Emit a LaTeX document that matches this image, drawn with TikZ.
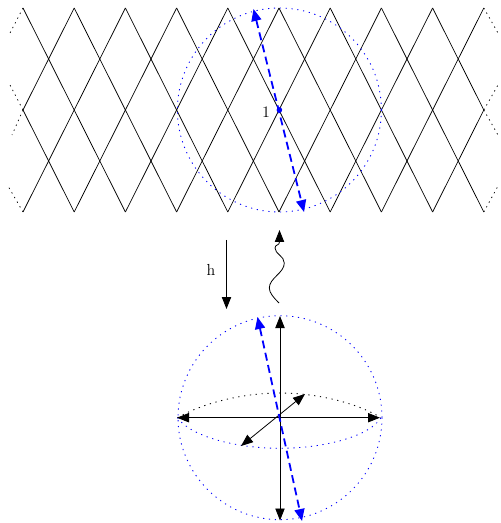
\documentclass[tikz,border=0pt]{standalone}
\usetikzlibrary{arrows.meta}
\definecolor{sphereblue}{RGB}{0,0,255}
\tikzset{
  x=0.75pt,y=-0.75pt,
  gridline/.style={draw=black,line width=0.55pt},
  griddots/.style={draw=black,line width=0.55pt,dash pattern=on 1pt off 3pt},
  bluedots/.style={draw=sphereblue,line width=0.65pt,dash pattern=on 0.9pt off 3.5pt},
  blackdots/.style={draw=black,line width=0.65pt,dash pattern=on 0.9pt off 3.5pt},
  axisarrow/.style={draw=black,line width=0.6pt,{Triangle[length=9pt,width=7pt]}-{Triangle[length=9pt,width=7pt]}},
  singlearrow/.style={draw=black,line width=0.6pt,-{Triangle[length=9pt,width=7pt]}},
  bluearrow/.style={draw=sphereblue,line width=1.35pt,dash pattern=on 6pt off 3.4pt,{Triangle[length=9pt,width=7.5pt]}-{Triangle[length=9pt,width=7.5pt]}},
  label text/.style={inner sep=0pt,font=\fontsize{12}{14}\selectfont,text=black}
}
\begin{document}
\begin{tikzpicture}
\useasboundingbox (0,0) rectangle (500,523);
% lattice points
\foreach \i in {0,...,9}{
  \coordinate (t\i) at ({23+51.2*\i},8);
  \coordinate (m\i) at ({23+51.2*\i},110);
  \coordinate (b\i) at ({23+51.2*\i},212);
}
% descending and ascending diagonals
\foreach \i [evaluate=\i as \j using int(\i+2)] in {0,...,7}{
  \draw[gridline] (t\i) -- (b\j);
  \draw[gridline] (b\i) -- (t\j);
}
\draw[gridline] (m0) -- (t1);
\draw[gridline] (m0) -- (b1);
\draw[gridline] (t8) -- (m9);
\draw[gridline] (b8) -- (m9);
% dotted continuations
\coordinate (lta) at (10,33);
\coordinate (lma) at (10,85);
\coordinate (lmb) at (12,135);
\coordinate (lba) at (8,186);
\coordinate (rta) at (498,33);
\coordinate (rma) at (498,85);
\coordinate (rmb) at (498,135);
\coordinate (rba) at (498,186);
\draw[griddots] (t0) -- (lta);
\draw[griddots] (m0) -- (lma);
\draw[griddots] (m0) -- (lmb);
\draw[griddots] (b0) -- (lba);
\draw[griddots] (t9) -- (rta);
\draw[griddots] (m9) -- (rma);
\draw[griddots] (m9) -- (rmb);
\draw[griddots] (b9) -- (rba);
% upper sphere
\coordinate (uc) at (279.4,110);
\coordinate (ua) at (253.5,9);
\coordinate (ub) at (304,212);
\draw[bluedots] (uc) circle[radius=102];
\draw[bluearrow] (ua) -- (ub);
\fill[sphereblue] (uc) circle[radius=2.8];
\node[label text] (one) at (266,112) {1};
% map arrows
\coordinate (hs) at (226.5,240);
\coordinate (he) at (226.5,309);
\draw[singlearrow] (hs) -- (he);
\node[label text] (hlabel) at (211,270) {h};
\coordinate (ws) at (279,303);
\coordinate (we) at (279.5,230);
\draw[singlearrow] (ws) .. controls (274,298) and (269.3,293) .. (269.3,288)
  .. controls (269.3,278) and (284.3,273) .. (284.3,263)
  .. controls (284.3,256) and (275,254) .. (275,248)
  .. controls (275,244) and (279.5,246) .. (we);
% lower sphere
\coordinate (lc) at (280,417.7);
\coordinate (ln) at (280,316);
\coordinate (ls) at (280,520.5);
\coordinate (lw) at (177,417.7);
\coordinate (le) at (380,417.7);
\coordinate (lf) at (305,394);
\coordinate (lg) at (241,446);
\coordinate (lp) at (257.5,317);
\coordinate (lq) at (302,521);
\coordinate (la) at (177.5,417.7);
\coordinate (lb) at (381,417.7);
\coordinate (lu) at (280,393);
\coordinate (ld) at (280,448.3);
\draw[bluedots] (lc) circle[radius=102];
\draw[blackdots] (la) .. controls (205,402) and (245,393) .. (lu)
  .. controls (315,393) and (355,402) .. (lb);
\draw[bluedots] (la) .. controls (190,436) and (235,448.3) .. (ld)
  .. controls (325,448.3) and (370,436) .. (lb);
\draw[axisarrow] (lw) -- (le);
\draw[axisarrow] (ln) -- (ls);
\draw[axisarrow] (lf) -- (lg);
\draw[bluearrow] (lp) -- (lq);
\end{tikzpicture}
\end{document}
